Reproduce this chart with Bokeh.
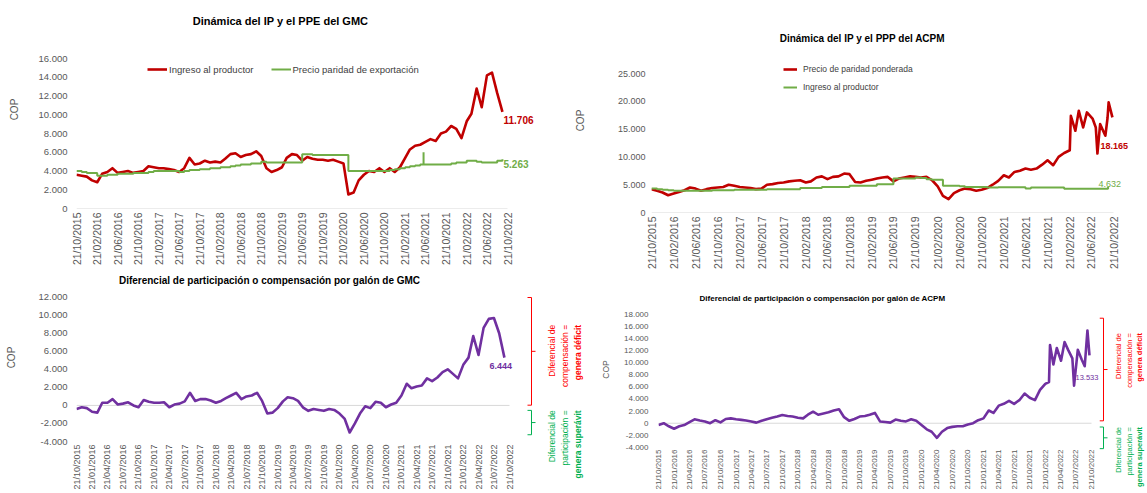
import math
import pandas as pd
from bokeh.plotting import figure
from bokeh.layouts import row, column
from bokeh.models import (Range1d, FixedTicker, DatetimeTickFormatter, CustomJSTickFormatter,
                          Legend, LegendItem, Label, Arrow, ColumnDataSource)
from bokeh.embed import file_html
from bokeh.resources import INLINE

FONT = "Liberation Sans"
GREY = "#595959"
RED = "#C00000"
GREEN = "#70AD47"
PURPLE = "#7030A0"
ANN_RED = "#FF0000"
ANN_GREEN = "#00B050"

# ---------------- data ----------------
first_month = "2015-10-21"
top_tick_dates = pd.date_range("2015-10-21", "2022-10-21", freq=pd.DateOffset(months=4))
bottom_tick_dates = pd.date_range("2015-10-21", "2022-10-21", freq=pd.DateOffset(months=3))

# GMC: Ingreso al productor (monthly, Oct-2015 .. Sep-2022)
ip_gmc = [3600, 3500, 3400, 3000, 2800, 3700, 3900, 4300, 3800, 3900,
          4000, 3800, 3900, 4000, 4500, 4400, 4300, 4300, 4200, 4100,
          3900, 4300, 5400, 4700, 4800, 5100, 4900, 5000, 4900, 5300,
          5800, 5900, 5500, 5700, 5800, 6100, 5600, 4300, 3900, 4100,
          4400, 5400, 5800, 5700, 5100, 5500, 5300, 5200, 5200, 5100,
          5200, 5000, 4800, 1500, 1700, 3000, 3600, 4000, 3900, 4300,
          3900, 4300, 3900, 4400, 5400, 6300, 6700, 6800, 7100, 7400,
          7200, 8000, 8200, 8800, 8500, 7500, 9300, 10100, 12800, 10800,
          14200, 14500, 12300, 10300]
# GMC: Precio paridad de exportación (monthly steps)
ppe_gmc = [4000, 3900, 3800, 3800, 3500, 3500, 3600, 3600, 3700, 3700,
           3700, 3800, 3800, 3800, 3900, 4000, 4000, 4000, 4000, 4000,
           3900, 4000, 4100, 4100, 4200, 4200, 4300, 4300, 4400, 4400,
           4500, 4600, 4700, 4700, 4800, 4800, 5000, 4900, 4900, 4900,
           4900, 4900, 4900, 4900, 5800, 5800, 5700, 5700, 5700, 5700,
           5700, 5700, 5700, 4000, 4000, 4000, 4000, 4000, 4000, 4000,
           4000, 4100, 4200, 4300, 4400, 4500, 4600, 4700, 4700, 4700,
           4700, 4700, 4700, 4800, 4900, 4900, 5100, 5100, 5000, 4900,
           4900, 4900, 5100, 5263]
ppe_gmc_spike_date = "2021-06-10"
ppe_gmc_spike_base = 4700
ppe_gmc_spike_top = 6000
# GMC: diferencial (monthly)
dif_gmc = [-400, -200, -300, -700, -800, 300, 300, 700, 100, 200,
           350, 0, -200, 600, 400, 300, 300, 350, -200, 100,
           200, 450, 1400, 500, 700, 700, 550, 300, 500, 800,
           1100, 1400, 700, 1000, 1100, 1400, 500, -900, -800, -300,
           450, 900, 800, 500, -250, -600, -400, -500, -600, -400,
           -500, -900, -1500, -3000, -2000, -900, -100, -300, 400, 300,
           -200, 100, 300, 1100, 2400, 1900, 2100, 2200, 3000, 2700,
           3100, 3700, 4000, 3500, 3000, 4500, 5300, 7700, 5600, 8600,
           9600, 9700, 8000, 5300]

# ACPM: Precio de paridad ponderada (monthly Oct-2015 .. Jan-2022, then detail)
pp_acpm = [4200, 3900, 3600, 3100, 3400, 3700, 4000, 4500, 4300, 3900,
           4200, 4400, 4500, 4600, 5000, 4800, 4600, 4500, 4400, 4200,
           4300, 5000, 5100, 5300, 5400, 5600, 5700, 5800, 5400, 5600,
           6300, 6500, 6000, 6400, 6500, 7000, 6900, 5500, 5400, 5700,
           5900, 6100, 6300, 6400, 5600, 6100, 6300, 6500, 6400, 6300,
           6400, 5800, 4700, 3000, 2400, 3500, 4000, 4300, 4200, 3900,
           4100, 4400, 5000, 5700, 6700, 6300, 7300, 7500, 7900, 7700,
           7900, 8600, 9400, 8500, 10000, 10700]
pp_acpm_tail_dates = ["2022-02-21", "2022-02-27", "2022-03-24", "2022-04-12", "2022-05-06",
                      "2022-05-27", "2022-06-27", "2022-07-15", "2022-07-24", "2022-08-08",
                      "2022-09-06", "2022-09-18", "2022-09-24", "2022-10-15"]
pp_acpm_tail = [11200, 17400, 14700, 18300, 15300, 18000, 16900, 15300, 10600, 15900,
                13800, 17000, 19800, 17100]
# ACPM: Ingreso al productor (monthly steps)
ip_acpm = [4300, 4200, 4100, 4000, 3900, 3900, 3900, 3900, 3900, 3900,
           3900, 4000, 4000, 4000, 4000, 4100, 4100, 4100, 4100, 4100,
           4100, 4200, 4200, 4200, 4200, 4200, 4200, 4400, 4400, 4400,
           4400, 4600, 4600, 4600, 4600, 4600, 4800, 4800, 4800, 4800,
           4800, 5100, 5100, 5100, 6100, 6100, 6100, 6100, 6300, 6200,
           6000, 5900, 5900, 4800, 4800, 4800, 4700, 4600, 4600, 4600,
           4600, 4500, 4500, 4550, 4550, 4550, 4550, 4550, 4300, 4500,
           4500, 4500, 4500, 4500, 4500, 4250, 4250, 4250, 4250, 4250,
           4250, 4250, 4250, 4632]
# ACPM: diferencial (monthly Oct-2015 .. Jan-2022, then detail)
dif_acpm = [-300, 0, -500, -900, -500, -300, 200, 650, 450, 300,
            0, 500, 150, 700, 800, 650, 550, 450, 300, 100,
            400, 650, 900, 1100, 1350, 1200, 1100, 900, 800, 1400,
            1900, 1400, 1600, 1800, 2100, 2300, 1000, 400, 700, 1100,
            1200, 1400, 1700, 300, 200, 100, 600, 400, 300, 650,
            400, -300, -1000, -1400, -2400, -1400, -800, -600, -500, -500,
            -200, 0, 500, 800, 2100, 1700, 2900, 3200, 3700, 3200,
            3800, 4900, 4200, 3800, 5500, 6500]
dif_acpm_tail_dates = ["2022-02-12", "2022-02-18", "2022-03-10", "2022-03-30", "2022-04-24",
                       "2022-05-15", "2022-06-05", "2022-06-30", "2022-07-10", "2022-08-01",
                       "2022-08-24", "2022-09-11", "2022-09-27", "2022-10-09"]
dif_acpm_tail = [6800, 12900, 9700, 12400, 10300, 13400, 12100, 10700, 6200, 12100,
                 10500, 9400, 15300, 11200]

last_ip_gmc = "11.706"
last_ppe_gmc = "5.263"
last_pp_acpm = "18.165"
last_ip_acpm = "4.632"
last_dif_gmc = "6.444"
last_dif_acpm = "13.533"

# ---------------- helpers ----------------
EPOCH = pd.Timestamp("1970-01-01")


def ms(d):
    return (pd.Timestamp(d) - EPOCH) / pd.Timedelta(milliseconds=1)


def monthly_x(n):
    return [ms(d) for d in pd.date_range(first_month, periods=n, freq=pd.DateOffset(months=1))]


def thousands_formatter():
    return CustomJSTickFormatter(code=r"""
const s = Math.round(Math.abs(tick)).toString().replace(/\B(?=(\d{3})+(?!\d))/g, ".");
return (tick < 0 ? "-" : "") + s;
""")


RES = ["microseconds", "milliseconds", "seconds", "minsec", "minutes",
       "hourmin", "hours", "days", "months", "years"]


def make_fig(cx, cy, w, h, frame_left, tick_right, frame_right, frame_top, ymax_px, frame_bottom,
             tick_dates, ymin, ymax, ystep, xfs, xstand, yfs, ystand, cop_stand, cop_fs):
    """Positions are page pixels; the figure canvas starts at (cx, cy)."""
    ticks = [ms(d) for d in tick_dates]
    t0, t1 = ticks[0], ticks[-1]
    x_end = t1 + (frame_right - tick_right) * (t1 - t0) / (tick_right - frame_left)
    y_end = ymax + (ymax_px - frame_top) * (ymax - ymin) / (frame_bottom - ymax_px)
    p = figure(width=w, height=h, x_axis_type="datetime",
               x_range=Range1d(t0, x_end), y_range=Range1d(ymin, y_end),
               output_backend="svg", toolbar_location=None,
               min_border_left=frame_left - cx, min_border_right=cx + w - frame_right,
               min_border_top=frame_top - cy, min_border_bottom=cy + h - frame_bottom)
    p.frame_align = False
    p.title = None
    p.outline_line_color = None
    p.xgrid.visible = False
    p.ygrid.visible = False
    p.background_fill_color = "white"
    p.border_fill_color = "white"

    xa = p.xaxis[0]
    xa.axis_label = None
    xa.ticker = FixedTicker(ticks=ticks)
    xa.formatter = DatetimeTickFormatter(**{k: "%d/%m/%Y" for k in RES})
    xa.major_label_orientation = math.pi / 2
    xa.axis_line_color = None
    xa.major_tick_line_color = None
    xa.minor_tick_line_color = None
    xa.major_tick_out = 0
    xa.major_label_standoff = xstand
    xa.major_label_text_font = FONT
    xa.major_label_text_font_size = f"{xfs}px"
    xa.major_label_text_color = GREY

    ya = p.yaxis[0]
    ya.ticker = FixedTicker(ticks=list(range(ymin, ymax + 1, ystep)))
    ya.formatter = thousands_formatter()
    ya.axis_line_color = None
    ya.major_tick_line_color = None
    ya.minor_tick_line_color = None
    ya.major_tick_out = 0
    ya.major_label_standoff = ystand
    ya.major_label_text_font = FONT
    ya.major_label_text_font_size = f"{yfs}px"
    ya.major_label_text_color = GREY
    ya.axis_label = "COP"
    ya.axis_label_standoff = cop_stand
    ya.axis_label_text_font = FONT
    ya.axis_label_text_font_size = f"{cop_fs}px"
    ya.axis_label_text_font_style = "normal"
    ya.axis_label_text_color = GREY

    # horizontal axis line at 0, across the dated span only
    p.line([t0, t1], [0, 0], line_color="#D9D9D9", line_width=1, level="underlay")
    geo = dict(t0=t0, t1=t1, frame_left=frame_left, tick_right=tick_right,
               ymin=ymin, ymax=ymax, ymax_px=ymax_px, ymin_px=frame_bottom)
    return p, geo


def chart_title(p, geo, text, cx_px, cy_px, fs):
    p.add_layout(Label(x=geo["t0"], y=geo["ymax"], x_offset=cx_px - geo["frame_left"],
                       y_offset=geo["ymax_px"] - cy_px, text=text, text_align="center",
                       text_baseline="middle", text_font=FONT, text_font_size=f"{fs}px",
                       text_font_style="bold", text_color="#000000"))


def value_label(p, geo, y, left_px, txt, color, fs, bold=True):
    p.add_layout(Label(x=geo["t1"], y=y, x_offset=left_px - geo["tick_right"], text=txt,
                       text_align="left", text_baseline="middle", text_font=FONT,
                       text_font_size=f"{fs}px", text_color=color,
                       text_font_style="bold" if bold else "normal"))


def make_side(cx, cy, w, h, geo):
    """Narrow panel beside a chart, sharing its vertical value scale."""
    k = (geo["ymin_px"] - geo["ymax_px"]) / (geo["ymax"] - geo["ymin"])
    y_end = geo["ymax"] + (geo["ymax_px"] - cy) / k
    y_start = geo["ymin"] - (cy + h - geo["ymin_px"]) / k
    a = figure(width=w, height=h, x_range=Range1d(0, w), y_range=Range1d(y_start, y_end),
               output_backend="svg", toolbar_location=None, min_border=0,
               x_axis_location=None, y_axis_location=None)
    a.frame_align = False
    a.title = None
    a.outline_line_color = None
    for g in a.grid:
        g.visible = False
    a.background_fill_color = "white"
    a.border_fill_color = "white"
    return a


def bracket(a, xb, top, bottom, color, hook=4):
    mid = (top + bottom) / 2
    src = ColumnDataSource(dict(x0=[xb, xb - hook, xb - hook, xb], y0=[top, top, bottom, mid],
                                x1=[xb, xb, xb, xb + hook], y1=[bottom, top, bottom, mid]))
    a.add_layout(Arrow(x_start="x0", y_start="y0", x_end="x1", y_end="y1", source=src,
                       end=None, line_color=color, line_width=1))


def bracket_text(a, xs, ytop, lines, color, fs):
    for (txt, bold), x in zip(lines, xs):
        a.add_layout(Label(x=x, y=ytop, text=txt, angle=math.pi / 2,
                           text_align="right", text_baseline="middle", text_font=FONT,
                           text_font_size=f"{fs}px", text_color=color,
                           text_font_style="bold" if bold else "normal"))


RED_LINES = [("Diferencial de", False), ("compensación =", False), ("genera déficit", True)]
GREEN_LINES = [("Diferencial de", False), ("participación =", False), ("genera superávit", True)]

# ---------------- top-left: GMC ----------------
f1, g1geo = make_fig(0, 0, 560, 272, 76, 507, 535, 10, 58, 208,
                     top_tick_dates, 0, 16000, 2000, 10.5, 4, 9.5, 9, 15, 10)
chart_title(f1, g1geo, "Dinámica del IP y el PPE del GMC", 280, 20, 11)
x_ip_gmc = monthly_x(len(ip_gmc))
x_ppe_gmc = monthly_x(len(ppe_gmc))
r1 = f1.line(x_ip_gmc, ip_gmc, line_color=RED, line_width=2.6, line_join="round")
g1 = f1.step(x_ppe_gmc, ppe_gmc, mode="after", line_color=GREEN, line_width=2)
f1.segment(x0=[ms(ppe_gmc_spike_date)], y0=[ppe_gmc_spike_base],
           x1=[ms(ppe_gmc_spike_date)], y1=[ppe_gmc_spike_top], line_color=GREEN, line_width=2)
leg1 = Legend(items=[LegendItem(label="Ingreso al productor", renderers=[r1]),
                     LegendItem(label="Precio paridad de exportación", renderers=[g1])],
              location=(71, 132), orientation="horizontal", border_line_color=None,
              background_fill_alpha=0, padding=0, margin=0, spacing=17, glyph_width=20,
              glyph_height=14, label_height=14, label_standoff=2, label_text_font=FONT,
              label_text_font_size="9.5px", label_text_color="#404040")
f1.add_layout(leg1)
value_label(f1, g1geo, 9400, 503, last_ip_gmc, RED, 10)
value_label(f1, g1geo, 4800, 503, last_ppe_gmc, GREEN, 10)

# ---------------- top-right: ACPM ----------------
f2, g2geo = make_fig(560, 0, 586, 272, 651, 1113, 1135, 28, 73, 212,
                     top_tick_dates, 0, 25000, 5000, 10.5, 4, 9, 6, 29, 10)
chart_title(f2, g2geo, "Dinámica del IP y el PPP del ACPM", 862, 38, 10)
x_pp_acpm = monthly_x(len(pp_acpm)) + [ms(d) for d in pp_acpm_tail_dates]
y_pp_acpm = pp_acpm + pp_acpm_tail
x_ip_acpm = monthly_x(len(ip_acpm))
r2 = f2.line(x_pp_acpm, y_pp_acpm, line_color=RED, line_width=2.6, line_join="round")
g2 = f2.step(x_ip_acpm, ip_acpm, mode="after", line_color=GREEN, line_width=2)
leg2 = Legend(items=[LegendItem(label="Precio de paridad ponderada", renderers=[r2]),
                     LegendItem(label="Ingreso al productor", renderers=[g2])],
              location=(132, 118), orientation="vertical", border_line_color=None,
              background_fill_alpha=0, padding=0, margin=0, spacing=4, glyph_width=14,
              glyph_height=14, label_height=14, label_standoff=6, label_text_font=FONT,
              label_text_font_size="8.5px", label_text_color="#404040")
f2.add_layout(leg2)
value_label(f2, g2geo, 12000, 1100, last_pp_acpm, RED, 9)
value_label(f2, g2geo, 5200, 1098, last_ip_acpm, GREEN, 9, bold=False)

# ---------------- bottom-left: diferencial GMC ----------------
f3, g3geo = make_fig(0, 272, 522, 220, 76, 509, 518, 273, 297, 443,
                     bottom_tick_dates, -4000, 12000, 2000, 9, 3, 9.5, 9, 18, 10)
chart_title(f3, g3geo, "Diferencial de participación o compensación por galón de GMC", 269, 280, 10)
x_dif_gmc = monthly_x(len(dif_gmc))
f3.line(x_dif_gmc, dif_gmc, line_color=PURPLE, line_width=2.6, line_join="round")
value_label(f3, g3geo, 4400, 489, last_dif_gmc, PURPLE, 9)

a3 = make_side(522, 272, 73, 220, g3geo)
bracket(a3, 9, 12000, 200, ANN_RED)
bracket(a3, 9, -370, -3040, ANN_GREEN)
bracket_text(a3, [29, 42, 55], 9000, RED_LINES, ANN_RED, 8.5)
bracket_text(a3, [29, 42, 55], -370, GREEN_LINES, ANN_GREEN, 8.5)

# ---------------- bottom-right: diferencial ACPM ----------------
f4, g4geo = make_fig(595, 272, 504, 220, 658, 1091, 1099, 291, 314, 450,
                     bottom_tick_dates, -4000, 18000, 2000, 8, 2, 8, 10, 10, 8.5)
chart_title(f4, g4geo, "Diferencial de participación o compensación por galón de ACPM", 822, 298, 8)
x_dif_acpm = monthly_x(len(dif_acpm)) + [ms(d) for d in dif_acpm_tail_dates]
y_dif_acpm = dif_acpm + dif_acpm_tail
f4.line(x_dif_acpm, y_dif_acpm, line_color=PURPLE, line_width=2.6, line_join="round")
value_label(f4, g4geo, 7500, 1075, last_dif_acpm, PURPLE, 7.5, bold=False)

a4 = make_side(1099, 272, 47, 220, g4geo)
bracket(a4, 4, 17400, 800, ANN_RED)
bracket(a4, 4, -200, -3700, ANN_GREEN)
bracket_text(a4, [19, 30, 40], 15000, RED_LINES, ANN_RED, 7.5)
bracket_text(a4, [19, 30, 40], -200, GREEN_LINES, ANN_GREEN, 7.5)

layout = column(row(f1, f2), row(f3, a3, f4, a4))
open("out.html", "w").write(file_html(layout, INLINE, title="Dinámica IP, PPE y PPP"))
